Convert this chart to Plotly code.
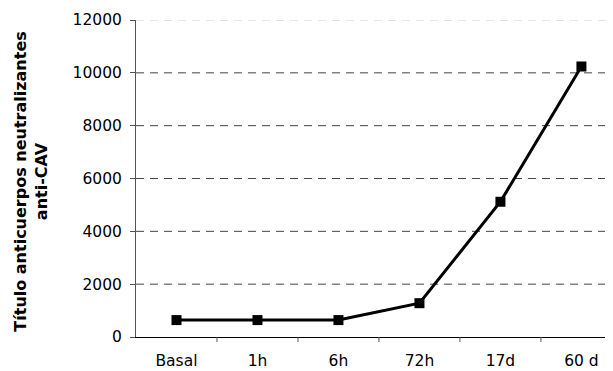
import plotly.graph_objects as go

categories = ["Basal", "1h", "6h", "72h", "17d", "60 d"]
values = [640, 640, 640, 1280, 5120, 10240]
y_ticks = [0, 2000, 4000, 6000, 8000, 10000, 12000]

OFF = 8  # page body margin
W, H = 613 - OFF, 371 - OFF
L, R, T, B = 136 - OFF, 0, 20 - OFF, 34

fig = go.Figure()
fig.add_trace(go.Scatter(
    x=list(range(len(categories))), y=values, mode="lines+markers",
    line=dict(color="black", width=3),
    marker=dict(symbol="square", size=10, color="black"),
    showlegend=False, hoverinfo="skip"))

# lighter top gridline
fig.add_shape(type="line", xref="paper", yref="y", x0=0, x1=1, y0=12000, y1=12000,
              line=dict(color="#c8c8c8", width=1, dash="8px,6px"), layer="below")

fig.update_layout(
    width=W, height=H, margin=dict(l=L, r=R, t=T, b=B, autoexpand=False),
    paper_bgcolor="white", plot_bgcolor="white",
    font=dict(family="DejaVu Sans, Verdana, sans-serif", size=15.5, color="black"),
    xaxis=dict(
        tickmode="array", tickvals=list(range(len(categories))), ticktext=categories,
        range=[-0.5, 5.39], showgrid=False, zeroline=False,
        showline=True, linecolor="black", linewidth=1,
        ticks="", tickfont=dict(size=15.5), ticklabelstandoff=9,
    ),
    yaxis=dict(
        range=[0, 12000], tickvals=y_ticks, tickformat="d",
        showgrid=False, zeroline=False,
        showline=True, linecolor="#555555", linewidth=1,
        ticks="outside", ticklen=5, tickcolor="#555555", tickfont=dict(size=15.5),
        ticklabelstandoff=5,
    ),
)

# dashed gridlines 2000..10000
for v in y_ticks[1:-1]:
    fig.add_shape(type="line", xref="paper", yref="y", x0=0, x1=1, y0=v, y1=v,
                  line=dict(color="#444444", width=1, dash="8px,6px"), layer="below")

# category boundary tick marks on x axis
for i in range(len(categories)):
    fig.add_shape(type="line", xref="x", yref="paper", x0=i + 0.5, x1=i + 0.5,
                  y0=0, y1=-5 / (H - T - B), line=dict(color="#555555", width=1))

fig.add_annotation(
    text="<b>Título anticuerpos neutralizantes<br>anti-CAV</b>",
    xref="paper", yref="paper", x=-(136 - 31) / (W - L - R), y=0.49,
    xanchor="center", yanchor="middle", textangle=-90, showarrow=False,
    font=dict(size=16, color="black"), align="center")

fig.write_html("out.html")
